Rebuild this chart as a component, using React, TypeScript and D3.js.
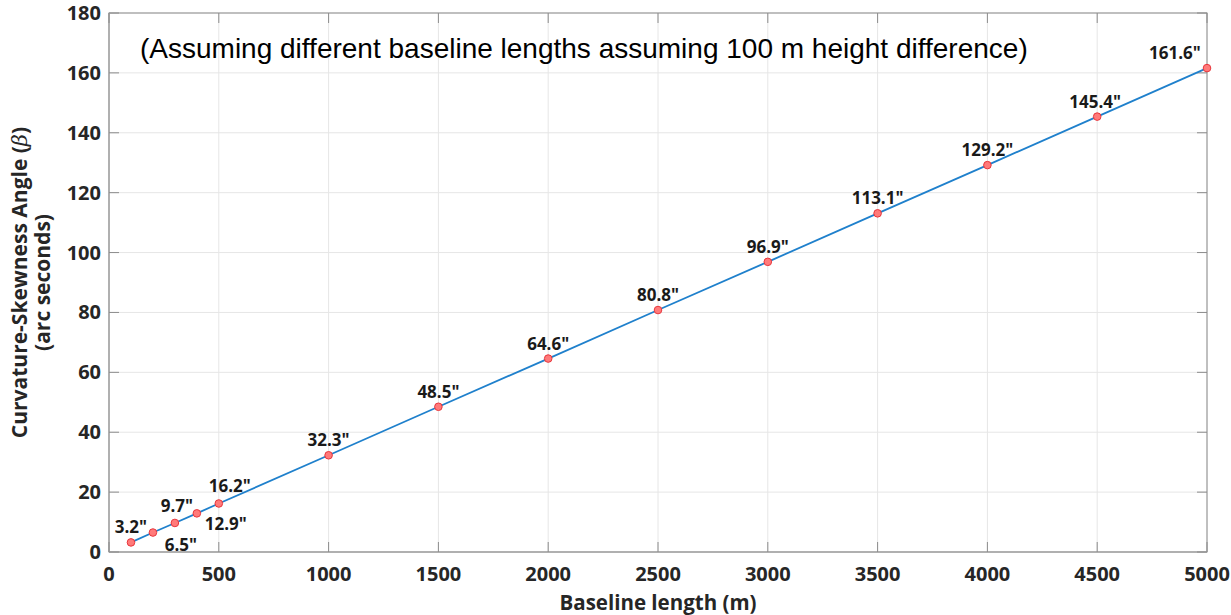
import React from "react";
import * as d3 from "d3";

const baselines = [100, 200, 300, 400, 500, 1000, 1500, 2000, 2500, 3000, 3500, 4000, 4500, 5000];
const angles = [3.2, 6.5, 9.7, 12.9, 16.2, 32.3, 48.5, 64.6, 80.8, 96.9, 113.1, 129.2, 145.4, 161.6];
const xTicks = [0, 500, 1000, 1500, 2000, 2500, 3000, 3500, 4000, 4500, 5000];
const yTicks = [0, 20, 40, 60, 80, 100, 120, 140, 160, 180];
// label placement: dx, dy (baseline) relative to the point
const labelOffsets: [number, number][] = [
  [0, -9], [28, 18], [2, -11], [29, 17], [11, -11], [0, -9], [0, -9],
  [0, -9], [0, -9], [0, -9], [0, -9], [0, -9], [-2, -9], [-32, -9],
];

const W = 1231, H = 615;
const M = { left: 109, right: 1207, top: 13, bottom: 552 };

export default function App() {
  const x = d3.scaleLinear().domain([0, 5000]).range([M.left, M.right]);
  const y = d3.scaleLinear().domain([0, 180]).range([M.bottom, M.top]);
  const line = d3.line<number>().x((_, i) => x(baselines[i])).y((d) => y(d));
  const tickFont = "'Open Sans', 'Noto Sans', sans-serif";
  return (
    <svg width={W} height={H} style={{ position: "absolute", left: 0, top: 0, background: "#fff" }}>
      {/* grid */}
      {xTicks.map((t) => (
        <line key={"gx" + t} x1={x(t)} x2={x(t)} y1={M.top} y2={M.bottom} stroke="#e6e6e6" strokeWidth={1} />
      ))}
      {yTicks.map((t) => (
        <line key={"gy" + t} x1={M.left} x2={M.right} y1={y(t)} y2={y(t)} stroke="#e6e6e6" strokeWidth={1} />
      ))}
      {/* box */}
      <rect x={M.left} y={M.top} width={M.right - M.left} height={M.bottom - M.top} fill="none" stroke="#8c8c8c" strokeWidth={1} />
      <line x1={M.left} x2={M.left} y1={M.top} y2={M.bottom} stroke="#b0b0b0" strokeWidth={2} />
      <line x1={M.left} x2={M.right} y1={M.bottom} y2={M.bottom} stroke="#b0b0b0" strokeWidth={2} />
      {/* inward ticks */}
      {xTicks.map((t) => (
        <g key={"tx" + t}>
          <line x1={x(t)} x2={x(t)} y1={M.bottom} y2={M.bottom - 10} stroke="#8c8c8c" />
          <line x1={x(t)} x2={x(t)} y1={M.top} y2={M.top + 10} stroke="#8c8c8c" />
        </g>
      ))}
      {yTicks.map((t) => (
        <g key={"ty" + t}>
          <line x1={M.left} x2={M.left + 10} y1={y(t)} y2={y(t)} stroke="#8c8c8c" />
          <line x1={M.right} x2={M.right - 10} y1={y(t)} y2={y(t)} stroke="#8c8c8c" />
        </g>
      ))}
      {/* tick labels */}
      {xTicks.map((t) => (
        <text key={"lx" + t} x={x(t)} y={M.bottom + 29} textAnchor="middle" fontFamily={tickFont} fontWeight="bold" fontSize={20} fill="#262626">
          {t}
        </text>
      ))}
      {yTicks.map((t) => (
        <text key={"ly" + t} x={M.left - 8} y={y(t) + 7} textAnchor="end" fontFamily={tickFont} fontWeight="bold" fontSize={20} fill="#262626">
          {t}
        </text>
      ))}
      {/* axis titles */}
      <text x={(M.left + M.right) / 2} y={610} textAnchor="middle" fontFamily={tickFont} fontWeight="bold" fontSize={20.5} fill="#262626">
        Baseline length (m)
      </text>
      <g transform={`translate(27, ${(M.top + M.bottom) / 2}) rotate(-90)`}>
        <text x={0} y={0} textAnchor="middle" fontFamily={tickFont} fontWeight="bold" fontSize={21} fill="#262626">
          Curvature-Skewness Angle (<tspan fontStyle="italic" fontWeight="normal" fontFamily="'DejaVu Serif', serif">β</tspan>)
        </text>
        <text x={0} y={23} textAnchor="middle" fontFamily={tickFont} fontWeight="bold" fontSize={21} fill="#262626">
          (arc seconds)
        </text>
      </g>
      {/* annotation */}
      <text x={140} y={58} fontFamily="'Liberation Sans', Arial, sans-serif" fontSize={28} fill="#000">
        (Assuming different baseline lengths assuming 100 m height difference)
      </text>
      {/* series */}
      <path d={line(angles) || ""} fill="none" stroke="#1f80cc" strokeWidth={1.8} />
      {angles.map((v, i) => (
        <circle key={"p" + i} cx={x(baselines[i])} cy={y(v)} r={3.8} fill="#ff7a7a" stroke="#e8363c" strokeWidth={1} />
      ))}
      {angles.map((v, i) => (
        <text
          key={"t" + i}
          x={x(baselines[i]) + labelOffsets[i][0]}
          y={y(v) + labelOffsets[i][1]}
          textAnchor="middle"
          fontFamily={tickFont}
          fontWeight="bold"
          fontSize={17}
          fill="#1a1a1a"
        >
          {v.toFixed(1)}"
        </text>
      ))}
    </svg>
  );
}
